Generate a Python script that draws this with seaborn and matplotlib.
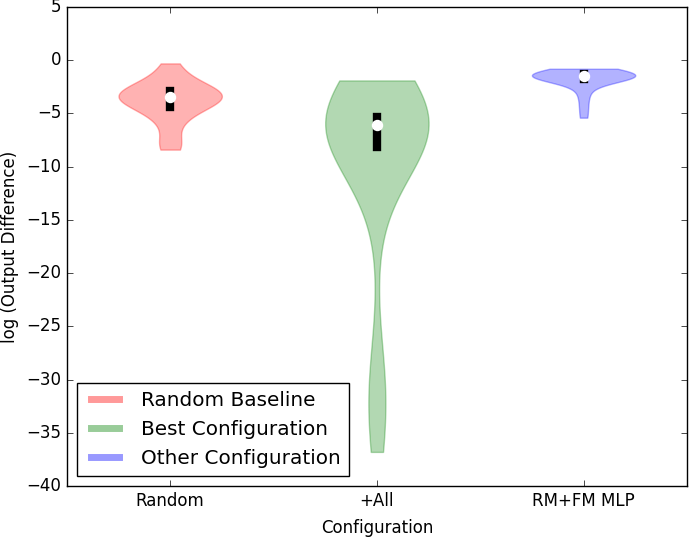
import numpy as np
import pandas as pd
import matplotlib
matplotlib.use("Agg")
import matplotlib.pyplot as plt
import seaborn as sns
from matplotlib.lines import Line2D

configs = ["Random", "+All", "RM+FM MLP"]
legend_labels = ["Random Baseline", "Best Configuration", "Other Configuration"]
colors = ["red", "green", "blue"]

# log output differences
random_vals = [-0.3, -1.0, -1.8, -2.2, -2.5, -2.7, -2.9, -3.0, -3.1, -3.2,
               -3.3, -3.4, -3.5, -3.6, -3.7, -3.9, -4.1, -4.2, -4.4, -5.0,
               -5.4, -6.0, -7.6, -8.0, -8.4]
all_vals = [-1.9, -2.4, -2.9, -3.3, -3.7, -4.1, -4.5, -4.8, -5.1, -5.3,
            -5.4, -5.5, -5.6, -5.7, -5.8, -5.85, -5.9, -6.0, -6.05, -6.1,
            -6.15, -6.3, -6.4, -6.6, -6.8, -7.0, -7.3, -7.6, -7.9, -8.1,
            -8.4, -10.0, -11.8, -14.0,
            -28.0, -30.2, -31.5, -32.8, -34.6, -36.8]
mlp_vals = [-0.8, -0.9, -1.0, -1.1, -1.2, -1.2, -1.3, -1.3, -1.4, -1.4,
            -1.5, -1.5, -1.5, -1.6, -1.6, -1.7, -1.7, -1.7, -1.8, -2.3,
            -2.8, -3.5, -4.4, -5.4]

df = pd.DataFrame({
    "config": ["Random"] * len(random_vals) + ["+All"] * len(all_vals) + ["RM+FM MLP"] * len(mlp_vals),
    "value": random_vals + all_vals + mlp_vals,
})

plt.style.use("classic")
fig = plt.figure(figsize=(6.89, 5.37), dpi=100, facecolor="white")
ax = fig.add_axes([0.097, 0.095, 0.9, 0.892])

sns.violinplot(data=df, x="config", y="value", hue="config", order=configs,
               palette=colors, saturation=1, cut=0, density_norm="width",
               width=0.5, inner="box", linecolor="black", linewidth=1,
               inner_kws=dict(box_width=6, whis_width=0, marker="o", markersize=7),
               alpha=0.3, legend=False, ax=ax)

for coll, c in zip(ax.collections, colors):
    coll.set_edgecolor(matplotlib.colors.to_rgba(c, 0.3))

ax.set_ylim(-40, 5)
ax.set_yticks(range(-40, 6, 5))
ax.set_xlim(-0.5, 2.5)
ax.set_xlabel("Configuration", labelpad=7)
ax.set_ylabel("log (Output Difference)")

handles = [Line2D([], [], color=c, alpha=0.4, lw=5) for c in colors]
ax.legend(handles, legend_labels, loc="lower left", fontsize=14.4)

fig.savefig("out.png", dpi=100, facecolor="white")
